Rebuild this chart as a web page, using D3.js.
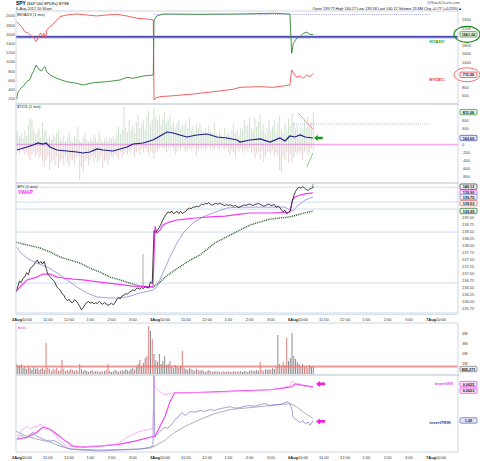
<!DOCTYPE html>
<html>
<head>
<meta charset="utf-8">
<script src="https://cdn.jsdelivr.net/npm/d3@7"></script>
<style>
  body { margin: 0; background: #fff; }
  svg text { font-family: "Liberation Sans", Arial, sans-serif; }
</style>
</head>
<body>
<script>
// ---------- data (5-min samples per session, 9:30 start, 390 min per day) ----------
const dayNames = ["2Aug", "3Aug", "6Aug", "7Aug"];
const hourLabels = ["11:00", "12:00", "1:00", "2:00", "3:00"];
const hourMinutes = [90, 150, 210, 270, 330];

// SPY close, 1 min chart sampled every 5 min
const spyAug2 = [136.35,136.55,136.75,136.70,136.85,136.90,137.05,136.98,137.20,137.25,
  137.32,137.42,137.50,137.38,137.45,137.36,137.45,137.20,137.00,136.92,
  136.85,136.78,136.70,136.55,136.48,136.42,136.30,136.25,136.12,136.05,
  136.10,136.00,135.98,136.08,136.05,135.95,135.85,135.72,135.80,135.92,
  135.98,136.02,135.96,136.00,135.93,135.98,135.95,136.02,135.96,135.92,
  135.98,135.93,135.88,135.92,135.96,135.90,135.98,136.10,136.15,136.12,
  136.22,136.25,136.30,136.28,136.35,136.38,136.44,136.40,136.48,136.50,
  136.46,136.52,136.48,136.55,136.52,136.50,136.72,136.66];
const spyAug3 = [138.55,138.48,138.58,138.66,138.80,138.93,139.05,139.15,139.22,139.18,
  139.25,139.15,139.20,139.24,139.16,139.24,139.16,139.20,139.24,139.32,
  139.36,139.33,139.40,139.38,139.42,139.40,139.44,139.50,139.47,139.52,
  139.50,139.55,139.48,139.46,139.50,139.52,139.49,139.53,139.50,139.47,
  139.44,139.48,139.45,139.47,139.44,139.42,139.45,139.40,139.38,139.41,
  139.44,139.47,139.45,139.48,139.50,139.47,139.45,139.48,139.50,139.52,
  139.49,139.46,139.42,139.45,139.48,139.50,139.44,139.46,139.48,139.38,
  139.42,139.38,139.30,139.22,139.28,139.15,139.20,139.25];
const spyAug6 = [139.55,139.80,139.95,140.05,140.10,140.06,140.12,140.07,140.02,139.98,140.04,140.06,140.12];

// SPY volume (millions)
const volAug2 = [1.1,0.9,0.8,1.0,0.6,0.7,0.5,0.8,0.6,0.4,
  0.7,0.5,0.6,0.4,0.5,0.6,0.4,3.1,0.6,0.5,
  0.3,0.5,0.4,0.6,0.3,0.4,1.4,0.5,0.3,0.4,
  0.3,0.5,0.4,0.3,0.4,0.3,1.0,0.5,0.3,0.4,
  0.3,0.2,0.3,0.4,0.2,0.3,0.3,0.2,0.3,0.2,
  0.3,0.4,1.0,0.3,0.2,0.3,0.4,0.3,0.2,0.3,
  0.4,0.3,0.5,0.4,0.3,0.5,0.6,0.4,0.7,1.0,
  1.4,0.8,1.1,1.6,1.8,4.8,4.3,3.5];
const volAug3 = [2.0,1.4,1.2,2.0,1.0,1.3,1.8,0.9,1.0,1.3,
  0.8,0.6,0.9,0.7,0.6,0.8,2.3,0.6,0.5,0.4,
  0.6,0.5,0.4,0.3,0.5,0.4,0.3,0.4,0.3,0.2,
  0.3,0.4,0.3,0.2,0.3,0.2,0.3,0.2,0.2,0.3,
  0.2,0.2,0.3,0.2,0.2,0.3,0.2,0.3,0.2,0.3,
  0.2,0.3,0.3,0.2,0.3,0.4,0.3,0.3,0.4,0.3,
  1.2,0.4,0.3,0.5,0.4,0.5,0.4,0.6,0.5,0.7,
  3.9,1.0,0.8,1.2,0.9,3.6,1.3,1.6];
const volAug6 = [4.1,1.8,1.5,1.2,1.0,0.8,1.0,0.7,0.8,0.6,0.9,0.7,0.8];
const volAverage = 0.75;

// $TICK high / low per sample
const tickHiAug2 = [300,350,200,280,150,350,220,480,660,600,
  380,250,300,400,180,560,320,360,150,200,
  120,260,190,300,360,150,100,220,80,180,
  290,120,60,200,140,440,100,60,180,290,
  120,80,160,100,240,180,80,310,150,60,
  120,200,90,190,140,220,150,300,440,260,
  380,940,420,300,610,350,480,300,560,740,
  400,520,620,380,700,860,500,640];
const tickLoAug2 = [-260,-150,-220,-100,-180,-260,-200,-300,-390,-250,
  -180,-300,-200,-340,-280,-420,-560,-380,-300,-640,
  -450,-380,-510,-300,-590,-420,-350,-510,-300,-460,
  -560,-380,-400,-510,-350,-300,-890,-560,-690,-420,
  -350,-510,-400,-300,-440,-350,-460,-380,-300,-590,
  -420,-380,-510,-350,-280,-340,-250,-300,-390,-200,
  -340,-250,-180,-260,-150,-220,-120,-310,-200,-150,
  -260,-120,-200,-100,-180,-260,-150,-220];
const tickHiAug3 = [910,700,600,740,500,650,810,560,620,740,
  480,560,420,520,610,380,500,450,560,420,
  660,380,460,300,520,420,540,360,300,400,
  260,490,340,300,540,280,200,320,260,180,
  410,240,300,200,360,490,280,350,220,420,
  380,610,450,500,690,420,380,660,450,560,
  740,380,490,280,400,610,350,450,610,300,
  520,740,400,300,540,360,660,480];
const tickLoAug3 = [-340,-200,-140,-100,-60,-120,-80,-190,-100,-150,
  -60,-120,-260,-180,-90,-140,-60,-100,-190,-120,
  -80,-150,-100,-60,-290,-140,-80,-120,-60,-140,
  -100,-60,-120,-80,-140,-60,-100,-120,-60,-100,
  -120,-80,-180,-260,-140,-200,-310,-120,-180,-100,
  -160,-210,-120,-180,-90,-200,-150,-340,-220,-180,
  -390,-150,-440,-300,-200,-180,-250,-150,-310,-200,
  -300,-640,-690,-300,-390,-200,-460,-250];
const tickHiAug6 = [790,560,400,490,300,450,380,610,420,690,500,560,810];
const tickLoAug6 = [-440,-310,-200,-260,-150,-220,-390,-180,-120,-260,-200,-100,-140];

// [session minute, value] series (Aug 3 starts at 390, Aug 6 at 780)
const tickMA = [[3,-138],[31,-62],[48,-12],[62,38],[76,12],[85,38],[96,-62],[116,-138],[144,-162],[172,-188],
  [189,-212],[209,-188],[229,-112],[246,-138],[274,-162],[294,-112],[314,-62],[331,12],[359,38],[387,112],
  [407,212],[427,312],[444,288],[463,238],[483,188],[511,238],[540,262],[568,188],[596,162],[625,112],
  [633,62],[661,112],[690,138],[718,62],[746,162],[760,88],[774,212],[788,188],[803,238],[817,188],[839,162]];

const nyadv = [[2,522],[4,624],[6,702],[11,759],[21,837],[30,939],[40,996],[44,1098],[49,1176],[57,1334],
  [60,1294],[66,1216],[73,1199],[77,1256],[82,1294],[87,1176],[96,1098],[115,1019],[143,939],[172,901],
  [190,861],[218,915],[256,939],[294,979],[313,1043],[331,1019],[360,1074],[388,1098],[390,2400],[398,2495],
  [416,2542],[520,2535],[614,2542],[633,2542],[727,2559],[774,2542],[779,1611],[784,1848],[793,1967],
  [803,2005],[812,2085],[822,2116],[831,2052],[840,2061]];
const nydec = [[2,1876],[6,1842],[16,1768],[25,1659],[35,1625],[44,1566],[49,1551],[57,1443],[60,1479],[66,1588],
  [70,1625],[75,1551],[79,1625],[84,1516],[87,1696],[96,1768],[105,1826],[115,1913],[124,1985],[143,2022],
  [172,2043],[200,2022],[228,2000],[256,2022],[285,2037],[313,2000],[341,1950],[369,1935],[388,1913],[390,178],
  [393,215],[407,250],[445,271],[501,308],[558,358],[614,410],[633,453],[690,466],[726,453],[755,482],
  [774,503],[779,829],[786,742],[793,670],[803,699],[812,649],[822,720],[831,683],[840,757]];

const vwap = [[1,136.40],[31,136.79],[59,136.89],[76,137.00],[96,137.00],[116,136.89],[133,136.86],[161,136.82],
  [189,136.79],[237,136.71],[285,136.64],[331,136.57],[379,136.54],[387,136.54],
  [393,138.71],[398,138.46],[407,138.57],[415,138.75],[427,138.82],[435,138.86],[455,138.93],[478,138.96],
  [506,139.00],[548,139.04],[591,139.07],[633,139.14],[661,139.18],[718,139.18],[774,139.21],
  [781,139.64],[788,139.75],[803,139.82],[817,139.86],[839,139.90]];
const spyMA60 = [[3,137.96],[11,137.79],[31,137.57],[59,137.39],[88,137.25],[116,137.04],[144,136.79],[172,136.54],
  [201,136.32],[229,136.18],[274,136.14],[314,136.18],[350,136.32],[387,136.43],[398,136.54],[415,137.04],
  [435,137.61],[455,138.11],[472,138.46],[500,138.82],[528,139.04],[557,139.18],[596,139.36],[633,139.39],
  [718,139.39],[760,139.39],[774,139.29],[783,139.25],[797,139.46],[817,139.64],[839,139.75]];
const spyMA200 = [[0,138.14],[31,138.04],[68,137.93],[96,137.79],[124,137.61],[153,137.50],[181,137.39],[209,137.21],
  [237,137.07],[266,136.89],[294,136.79],[322,136.68],[350,136.57],[387,136.54],[407,136.71],[421,136.89],
  [449,137.14],[492,137.50],[520,137.68],[562,138.11],[605,138.39],[633,138.57],[661,138.75],[690,138.86],
  [718,138.96],[746,139.00],[774,139.04],[803,139.14],[839,139.25]];
const priceLevels = [140.10, 139.57, 139.32, 138.50, 136.68];
const priceSpikes = [[359, 136.50, 137.71], [839, 140.05, 140.22]];

const invertVIX = [[3,0.05069],[15,0.05200],[31,0.05300],[40,0.05250],[48,0.05277],[60,0.05300],[68,0.05346],
  [78,0.05300],[88,0.05277],[96,0.05220],[105,0.05162],[115,0.05050],[124,0.04954],[144,0.04838],[172,0.04815],
  [200,0.04830],[237,0.04838],[260,0.04860],[285,0.04885],[300,0.04960],[314,0.05046],[328,0.05100],[342,0.05162],
  [360,0.05200],[379,0.05231],[387,0.05254],[390,0.06380],[393,0.06223],[407,0.06108],[421,0.06038],[435,0.06070],
  [449,0.06085],[470,0.06080],[492,0.06085],[520,0.06095],[548,0.06085],[577,0.06100],[605,0.06108],[633,0.06131],
  [655,0.06120],[675,0.06131],[700,0.06145],[718,0.06154],[740,0.06170],[760,0.06223],[774,0.06246],[780,0.06362],
  [785,0.06330],[791,0.06269],[797,0.06300],[803,0.06292],[810,0.06250],[817,0.06223],[828,0.06235],[839,0.06200]];
const invertVIXMA = [[3,0.05000],[31,0.05046],[59,0.05162],[76,0.05277],[96,0.05231],[116,0.05115],[133,0.05000],
  [161,0.04838],[189,0.04815],[237,0.04838],[294,0.04885],[336,0.04954],[379,0.05046],[393,0.05069],[407,0.05300],
  [421,0.05531],[435,0.05877],[449,0.06085],[492,0.06085],[633,0.06131],[718,0.06154],[760,0.06200],[780,0.06223],
  [788,0.06292],[803,0.06269],[839,0.06223]];
const invertTRIN = [[3,0.842],[10,0.870],[17,0.879],[24,0.851],[31,0.860],[40,0.889],[48,0.907],[54,0.880],[59,0.870],
  [68,0.855],[76,0.842],[86,0.830],[96,0.823],[106,0.830],[116,0.814],[125,0.795],[133,0.776],[143,0.760],[153,0.748],
  [167,0.745],[181,0.739],[210,0.735],[237,0.729],[265,0.735],[294,0.739],[320,0.742],[350,0.748],[365,0.757],
  [379,0.767],[387,0.776],[390,1.450],[392,0.870],[400,0.890],[407,0.917],[414,0.935],[421,0.954],[428,0.945],
  [435,0.963],[442,0.990],[449,1.029],[458,1.048],[464,1.080],[469,1.094],[478,1.066],[485,1.085],[492,1.104],
  [506,1.098],[520,1.113],[534,1.105],[548,1.122],[562,1.115],[577,1.132],[591,1.140],[605,1.150],[619,1.135],
  [633,1.141],[647,1.155],[661,1.160],[675,1.152],[690,1.169],[704,1.179],[718,1.160],[732,1.172],[746,1.169],
  [760,1.188],[769,1.198],[774,1.179],[780,1.122],[783,1.048],[788,1.035],[791,1.029],[797,1.010],[803,1.001],
  [811,1.019],[815,0.995],[820,0.991],[826,1.005],[831,0.973],[835,0.990],[839,1.019]];
const invertTRINMA = [[0,0.917],[31,0.870],[59,0.842],[96,0.814],[124,0.776],[153,0.748],[237,0.739],[350,0.748],
  [379,0.757],[393,0.776],[421,0.832],[449,0.907],[478,0.963],[520,1.029],[562,1.085],[605,1.122],[633,1.132],
  [690,1.150],[746,1.169],[774,1.179],[788,1.160],[803,1.122],[817,1.085],[831,1.057],[839,1.038]];

// ---------- helpers ----------
function bySession(days) {
  const out = [];
  days.forEach((arr, d) => arr.forEach((v, i) => out.push([d * 390 + i * 5, v])));
  return out;
}
const spy = bySession([spyAug2, spyAug3, spyAug6]);
const vol = bySession([volAug2, volAug3, volAug6]);
const tickHi = bySession([tickHiAug2, tickHiAug3, tickHiAug6]);
const tickLo = bySession([tickLoAug2, tickLoAug3, tickLoAug6]);

const W = 480, H = 461, L = 16, R = 458;
const svg = d3.select("body").append("svg").attr("width", W).attr("height", H);

const x = d3.scaleLinear().domain([0, 1249]).range([L, R]);

const panels = {
  breadth: [11, 104], tick: [104, 183], price: [183, 313], volume: [323, 375], ratio: [375, 452]
};
const nydecY = d3.scaleLinear().domain([91, 2108]).range([104, 11]);
const nyadvY = d3.scaleLinear().domain([411, 2613]).range([104, 11]);
const tickY = d3.scaleLinear().domain([-962, 1012]).range([183, 104]);
const priceY = d3.scaleLinear().domain([135.61, 140.25]).range([313, 183]);
const volY = d3.scaleLinear().domain([0, 5.1]).range([374, 323]);
const trinY = d3.scaleLinear().domain([0.72, 1.45]).range([452, 375]);
const vixY = d3.scaleLinear().domain([0.047, 0.065]).range([452, 375]);

function layer(name) {
  const [t, b] = panels[name];
  svg.append("clipPath").attr("id", "c-" + name)
    .append("rect").attr("x", L).attr("y", t).attr("width", R - L).attr("height", b - t);
  return svg.append("g").attr("clip-path", `url(#c-${name})`);
}
const lineOf = ys => d3.line().x(d => x(d[0])).y(d => ys(d[1]));

function txt(g, px, py, s, opt = {}) {
  return g.append("text").attr("x", px).attr("y", py).text(s)
    .attr("font-size", opt.size || 4).attr("fill", opt.fill || "#333")
    .attr("font-weight", opt.bold ? "bold" : null)
    .attr("text-anchor", opt.anchor || "start");
}
// right-hand tick labels, skipping the ones hidden under value tags
function rightTicks(scale, values, fmt, tagYs = []) {
  const shown = values.filter(v => tagYs.every(ty => Math.abs(scale(v) - ty) > 4.5));
  svg.append("g").selectAll("text").data(shown).join("text")
    .attr("x", 462).attr("y", d => scale(d) + 1.4).text(fmt)
    .attr("font-size", 4).attr("fill", "#444");
}
function tag(py, s, stroke, fill) {
  const g = svg.append("g");
  g.append("rect").attr("x", 460).attr("y", py - 2.7).attr("width", 17).attr("height", 5.4)
    .attr("rx", 1).attr("fill", fill).attr("stroke", stroke).attr("stroke-width", 0.7);
  txt(g, 468.5, py + 1.5, s, { anchor: "middle", fill: "#111", bold: true, size: 3.8 });
}
function leftArrow(g, px, py, color) {
  g.append("path").attr("fill", color)
    .attr("d", `M${px - 4},${py} L${px},${py - 3} L${px},${py - 1.3} L${px + 5},${py - 1.3} L${px + 5},${py + 1.3} L${px},${py + 1.3} L${px},${py + 3} Z`);
}

// ---------- header ----------
const head = svg.append("g");
const t1 = txt(head, 16, 5, "SPY", { bold: true, size: 4.8, fill: "#000" });
t1.append("tspan").attr("font-weight", "normal").attr("font-size", 3.8).text(" (S&P 500 SPDRs) NYSE");
txt(head, 16, 9.6, "6-Aug-2012 10:30am", { size: 3.8, fill: "#222" });
txt(head, 460, 4, "@StockCharts.com", { size: 3.8, anchor: "end", fill: "#555" });
txt(head, 462, 9.6, "Open 139.72  High 140.17  Low 139.58  Last 140.12  Volume 23.6M  Chg +0.77 (+0.55%)▲",
  { size: 3.8, anchor: "end", fill: "#111" });

// ---------- panel 1: NYADV / NYDEC ----------
const g1 = layer("breadth");
g1.append("line").attr("x1", L).attr("x2", R).attr("y1", nyadvY(2000)).attr("y2", nyadvY(2000))
  .attr("stroke", "#b8b8f0").attr("stroke-width", 3);
g1.append("line").attr("x1", L).attr("x2", R).attr("y1", nyadvY(2000)).attr("y2", nyadvY(2000))
  .attr("stroke", "#2a2aa8").attr("stroke-width", 1.1);
g1.append("line").attr("x1", x(390)).attr("x2", x(1169)).attr("y1", nyadvY(2530)).attr("y2", nyadvY(2530))
  .attr("stroke", "#8888e0").attr("stroke-width", 0.8).attr("stroke-dasharray", "1,1.2");
g1.append("path").datum(nydec).attr("d", lineOf(nydecY))
  .attr("fill", "none").attr("stroke", "#f25050").attr("stroke-width", 0.9);
g1.append("path").datum(nyadv).attr("d", lineOf(nyadvY))
  .attr("fill", "none").attr("stroke", "#2f8a2f").attr("stroke-width", 0.9);
txt(svg, 17, 15.5, "$NYADV (1 min)", { size: 3.8, fill: "#222" });
txt(svg, 437, 43, "NYADV", { size: 4.4, bold: true, fill: "#2f9a2f", anchor: "middle" });
txt(svg, 437, 81, "NYDEC", { size: 4.4, bold: true, fill: "#f03030", anchor: "middle" });
svg.append("g").selectAll("text").data(d3.range(200, 2001, 200)).join("text")
  .attr("x", 15).attr("y", d => nydecY(d) + 1.4).attr("text-anchor", "end")
  .attr("font-size", 4).attr("fill", "#444").text(d => d);
const advTagY = nyadvY(nyadv[nyadv.length - 1][1]);
const decTagY = nydecY(nydec[nydec.length - 1][1]) + 1.5;
rightTicks(nyadvY, d3.range(600, 2401, 200), d => d, [advTagY, decTagY]);
tag(advTagY, "1961.00", "#2f8a2f", "#e8f3e8");
tag(decTagY, "711.00", "#e04040", "#fbe8e8");
svg.append("ellipse").attr("cx", 467).attr("cy", advTagY)
  .attr("rx", 13).attr("ry", 8).attr("fill", "none").attr("stroke", "#1a8a1a").attr("stroke-width", 1.2);
svg.append("ellipse").attr("cx", 467).attr("cy", decTagY)
  .attr("rx", 13).attr("ry", 7).attr("fill", "none").attr("stroke", "#f06060").attr("stroke-width", 0.9);

// ---------- panel 2: $TICK ----------
const g2 = layer("tick");
g2.append("line").attr("x1", L).attr("x2", R).attr("y1", tickY(0)).attr("y2", tickY(0))
  .attr("stroke", "#f6a8f0").attr("stroke-width", 1.6);
g2.append("g").selectAll("line").data(tickHi).join("line")
  .attr("x1", d => x(d[0])).attr("x2", d => x(d[0]))
  .attr("y1", tickY(0)).attr("y2", d => tickY(d[1]))
  .attr("stroke", "rgba(130,175,130,0.42)").attr("stroke-width", 0.9);
g2.append("g").selectAll("line").data(tickLo).join("line")
  .attr("x1", d => x(d[0])).attr("x2", d => x(d[0]))
  .attr("y1", tickY(0)).attr("y2", d => tickY(d[1]))
  .attr("stroke", "rgba(185,135,135,0.4)").attr("stroke-width", 0.9);
g2.append("path").datum(tickMA).attr("d", lineOf(tickY))
  .attr("fill", "none").attr("stroke", "#1c1c8a").attr("stroke-width", 1.2);
g2.append("line").attr("x1", x(780)).attr("x2", x(1169)).attr("y1", tickY(512)).attr("y2", tickY(512))
  .attr("stroke", "#b0b0ee").attr("stroke-width", 0.8).attr("stroke-dasharray", "1,1");
g2.append("path").datum([[797, 788], [839, 388]]).attr("d", lineOf(tickY))
  .attr("stroke", "#f07070").attr("stroke-width", 0.7);
g2.append("path").datum([[822, -562], [839, -212]]).attr("d", lineOf(tickY))
  .attr("stroke", "#50b050").attr("stroke-width", 0.7);
leftArrow(svg, x(853), tickY(162), "#1a9a1a");
txt(svg, 17, 108, "$TICK (1 min)", { size: 3.8, fill: "#222" });
const tickTagHi = tickY(tickHi[tickHi.length - 1][1]);
const tickTagMA = tickY(tickMA[tickMA.length - 1][1]);
rightTicks(tickY, [-800, -600, -400, -200, 0, 200, 400, 600], d => d, [tickTagHi, tickTagMA]);
tag(tickTagHi, "811.00", "#2f8a2f", "#e0f0e0");
tag(tickTagMA, "162.00", "#4040b0", "#e6e6fa");

// ---------- panel 3: SPY price ----------
const g3 = layer("price");
g3.append("g").selectAll("line").data(priceLevels).join("line")
  .attr("x1", L).attr("x2", R).attr("y1", d => priceY(d)).attr("y2", d => priceY(d))
  .attr("stroke", "#c6daee").attr("stroke-width", 0.9);
g3.append("path").datum(spyMA200).attr("d", lineOf(priceY))
  .attr("fill", "none").attr("stroke", "#2a5f2a").attr("stroke-width", 1.4).attr("stroke-dasharray", "1,0.9");
g3.append("path").datum(spyMA60).attr("d", lineOf(priceY))
  .attr("fill", "none").attr("stroke", "#8a8ad8").attr("stroke-width", 0.8);
g3.append("g").selectAll("line").data(priceSpikes).join("line")
  .attr("x1", d => x(d[0])).attr("x2", d => x(d[0]))
  .attr("y1", d => priceY(d[1])).attr("y2", d => priceY(d[2]))
  .attr("stroke", (d, i) => i ? "#3a9a3a" : "#888").attr("stroke-width", 0.7);
g3.append("path").datum(vwap).attr("d", lineOf(priceY))
  .attr("fill", "none").attr("stroke", "#f23cf0").attr("stroke-width", 1.2);
g3.append("path").datum(spy).attr("d", lineOf(priceY))
  .attr("fill", "none").attr("stroke", "#2a2a2a").attr("stroke-width", 0.9);
txt(svg, 17, 187.6, "SPY (1 min)", { size: 3.8, fill: "#222" });
txt(svg, 18, 194, "VWAP", { size: 5, bold: true, fill: "#f030f0" });
rightTicks(priceY, d3.range(135.75, 139.01, 0.25), d => d.toFixed(2));
tag(priceY(140.12), "140.12", "#333", "#f0f0f0");
tag(priceY(139.90), "139.90", "#e040e0", "#fbe6fb");
tag(priceY(139.75), "139.75", "#8080d0", "#ececfa");
tag(priceY(139.53), "139.53", "#e06060", "#fbecec");
tag(priceY(139.25), "139.29", "#2a6a2a", "#e6f0e6");

// ---------- time axes ----------
function timeAxis(py) {
  const g = svg.append("g");
  dayNames.forEach((dn, d) => {
    const t = txt(g, x(d * 390) - 4, py, dn, { size: 4, bold: true, fill: "#222" });
    t.append("tspan").attr("font-weight", "normal").text("10:00");
    if (d < 3) {
      hourMinutes.forEach((hm, i) => txt(g, x(d * 390 + hm), py, hourLabels[i], { size: 4, anchor: "middle", fill: "#333" }));
    }
  });
}
timeAxis(320.5);
timeAxis(458.5);

// ---------- panel 4: volume ----------
const g4 = layer("volume");
g4.append("g").selectAll("rect").data(vol).join("rect")
  .attr("x", d => x(d[0]) - 0.5).attr("width", 1.0)
  .attr("y", d => volY(d[1])).attr("height", d => volY(0) - volY(d[1]))
  .attr("fill", (d, i) => i > 0 && spy[i][1] < spy[i - 1][1] ? "rgba(210,80,80,0.75)" : "rgba(100,100,100,0.75)");
g4.append("line").attr("x1", L).attr("x2", R).attr("y1", volY(volAverage)).attr("y2", volY(volAverage))
  .attr("stroke", "rgba(240,110,110,0.7)").attr("stroke-width", 2.2);
txt(svg, 18, 329, "bots", { size: 4.4, fill: "#e040e0" });
rightTicks(volY, [1, 2, 3, 4], d => d + "M");
tag(volY(0.5), "805,271", "#777", "#eee");

// ---------- panel 5: inverted VIX / TRIN ----------
const g5 = layer("ratio");
g5.append("path").datum(invertTRINMA).attr("d", lineOf(trinY))
  .attr("fill", "none").attr("stroke", "#9a9aa8").attr("stroke-width", 0.8);
g5.append("path").datum(invertTRIN).attr("d", lineOf(trinY))
  .attr("fill", "none").attr("stroke", "#7a7acc").attr("stroke-width", 0.7);
g5.append("path").datum(invertVIXMA).attr("d", lineOf(vixY))
  .attr("fill", "none").attr("stroke", "#f040f0").attr("stroke-width", 1.1);
g5.append("path").datum(invertVIX).attr("d", lineOf(vixY))
  .attr("fill", "none").attr("stroke", "#f890f4").attr("stroke-width", 0.7);
leftArrow(svg, x(859), vixY(0.06292), "#f020e0");
leftArrow(svg, x(859), trinY(1.010), "#f020e0");
txt(svg, 444, 385, "invertVIX", { size: 4.2, bold: true, fill: "#f030f0", anchor: "middle" });
txt(svg, 440, 423.5, "invertTRIN", { size: 4.2, bold: true, fill: "#303090", anchor: "middle" });
tag(vixY(0.06223) - 2.8, "0.0625", "#e040e0", "#fbe4fb");
tag(vixY(0.06200) + 2.8, "0.0623", "#e040e0", "#fbe4fb");
tag(trinY(1.019), "1.02", "#6060b0", "#e6e6fa");

// ---------- frames ----------
Object.values(panels).forEach(([t, b]) => {
  svg.append("rect").attr("x", L).attr("y", t).attr("width", R - L).attr("height", b - t)
    .attr("fill", "none").attr("stroke", "#c4ccd8").attr("stroke-width", 0.8);
});
svg.append("line").attr("x1", L).attr("x2", R).attr("y1", 314.5).attr("y2", 314.5)
  .attr("stroke", "#d4e2f0").attr("stroke-width", 1.2);
</script>
</body>
</html>
